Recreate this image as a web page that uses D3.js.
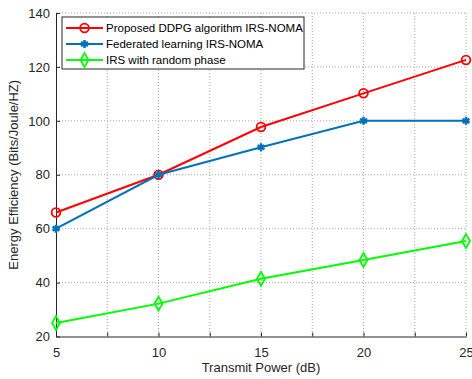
<!DOCTYPE html>
<html>
<head>
<meta charset="utf-8">
<script src="https://cdn.jsdelivr.net/npm/d3@7"></script>
<style>
  html, body { margin: 0; padding: 0; background: #fff; }
  svg { display: block; font-family: "Liberation Sans", Arial, sans-serif; }
</style>
</head>
<body>
<svg id="chart" width="472" height="379"></svg>
<script>
// Transmit power (dB) on the x axis
const power = [5, 10, 15, 20, 25];
// Energy efficiency for each scheme
const ddpg = [66, 80, 97.7, 110.2, 122.6];
const federated = [60, 80, 90.2, 100, 100];
const randomPhase = [25, 32.2, 41.4, 48.4, 55.4];

const seriesNames = ["Proposed DDPG algorithm IRS-NOMA", "Federated learning IRS-NOMA", "IRS with random phase"];
const xTickLabels = [5, 10, 15, 20, 25];
const xGridTicks = [5, 7.5, 10, 12.5, 15, 17.5, 20, 22.5, 25];
const yTicks = [20, 40, 60, 80, 100, 120, 140];

const series = [
  { name: seriesNames[0], values: ddpg, color: "#ff0000", marker: "circle" },
  { name: seriesNames[1], values: federated, color: "#0072bd", marker: "asterisk" },
  { name: seriesNames[2], values: randomPhase, color: "#00ff00", marker: "diamond" }
];

const svg = d3.select("#chart");
const m = { left: 56, right: 466, top: 13, bottom: 336.5 };
const x = d3.scaleLinear().domain([5, 25]).range([m.left, m.right]);
const y = d3.scaleLinear().domain([20, 140]).range([m.bottom, m.top]);
const textColor = "#262626";

// grid
const grid = svg.append("g");
grid.selectAll("line.gx").data(xGridTicks.filter(d => d > 5)).join("line")
  .attr("x1", d => x(d)).attr("x2", d => x(d))
  .attr("y1", m.top).attr("y2", m.bottom)
  .attr("stroke", "#a8a8a8").attr("stroke-width", 1).attr("stroke-dasharray", "1,2");
grid.selectAll("line.gy").data(yTicks.filter(d => d > 20)).join("line")
  .attr("x1", m.left).attr("x2", m.right)
  .attr("y1", d => y(d)).attr("y2", d => y(d))
  .attr("stroke", "#a8a8a8").attr("stroke-width", 1).attr("stroke-dasharray", "1,2");

// axes
const xAxis = d3.axisBottom(x).tickValues(xGridTicks).tickSizeInner(-4).tickSizeOuter(0)
  .tickFormat(d => xTickLabels.includes(d) ? d3.format("d")(d) : "");
const gx = svg.append("g").attr("transform", `translate(0,${m.bottom})`).call(xAxis);
gx.select(".domain").attr("stroke", textColor);
gx.selectAll(".tick line").attr("stroke", textColor);
gx.selectAll(".tick text").attr("fill", textColor).attr("font-size", 13)
  .attr("font-family", "Liberation Sans, Arial, sans-serif").attr("dy", "1.35em");

const yAxis = d3.axisLeft(y).tickValues(yTicks).tickSizeInner(-4).tickSizeOuter(0).tickFormat(d3.format("d"));
const gy = svg.append("g").attr("transform", `translate(${m.left},0)`).call(yAxis);
gy.select(".domain").attr("stroke", textColor);
gy.selectAll(".tick line").attr("stroke", textColor);
gy.selectAll(".tick text").attr("fill", textColor).attr("font-size", 13)
  .attr("font-family", "Liberation Sans, Arial, sans-serif").attr("x", -6);

// axis titles
svg.append("text").attr("x", (m.left + m.right) / 2).attr("y", 372)
  .attr("text-anchor", "middle").attr("font-size", 13).attr("fill", textColor)
  .text("Transmit Power (dB)");
svg.append("text").attr("transform", `translate(18,${(m.top + m.bottom) / 2}) rotate(-90)`)
  .attr("text-anchor", "middle").attr("font-size", 13).attr("fill", textColor)
  .text("Energy Efficiency (Bits/Joule/HZ)");

// markers
const symbolFor = {
  circle: d3.symbol().type(d3.symbolCircle).size(60),
  asterisk: d3.symbol().type(d3.symbolAsterisk).size(45),
  diamond: d3.symbol().type(d3.symbolDiamond).size(55)
};
function drawMarker(g, s, cx, cy) {
  g.append("path").attr("d", symbolFor[s.marker]())
    .attr("transform", `translate(${cx},${cy})`)
    .attr("fill", s.marker === "asterisk" ? s.color : "none")
    .attr("stroke", s.color).attr("stroke-width", s.marker === "asterisk" ? 2.5 : 1.8);
}

const line = d3.line().x(d => x(d[0])).y(d => y(d[1]));
series.forEach(s => {
  const pts = power.map((p, i) => [p, s.values[i]]);
  const g = svg.append("g");
  g.append("path").datum(pts).attr("d", line)
    .attr("fill", "none").attr("stroke", s.color).attr("stroke-width", 2);
  pts.forEach(p => drawMarker(g, s, x(p[0]), y(p[1])));
});

// legend
const lg = svg.append("g");
lg.append("rect").attr("x", 62).attr("y", 17).attr("width", 242).attr("height", 52)
  .attr("fill", "#fff").attr("stroke", textColor).attr("stroke-width", 1);
series.forEach((s, i) => {
  const cy = 28 + i * 16;
  lg.append("line").attr("x1", 66).attr("x2", 103).attr("y1", cy).attr("y2", cy)
    .attr("stroke", s.color).attr("stroke-width", 2);
  drawMarker(lg, s, 84.5, cy);
  lg.append("text").attr("x", 106).attr("y", cy).attr("dy", "0.35em")
    .attr("font-size", 11.5).attr("fill", "#000").text(s.name);
});
</script>
</body>
</html>
